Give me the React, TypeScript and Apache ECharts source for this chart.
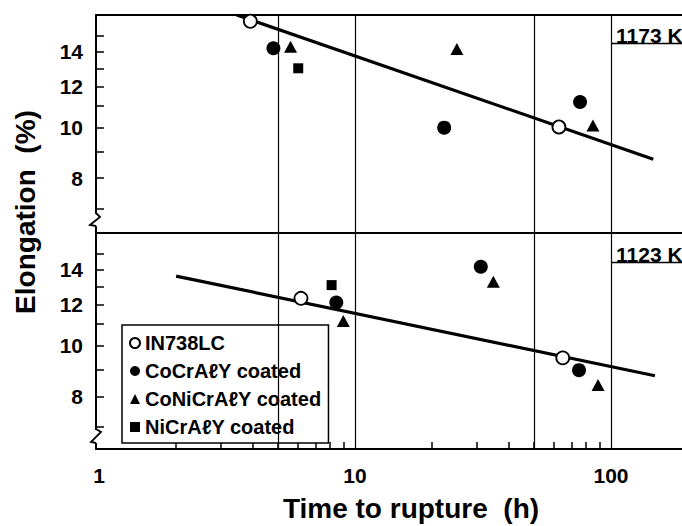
import React, { useEffect, useRef } from "react";
import * as echarts from "echarts";

// ---- axis ticks / labels ----
const xLabelValues = [1, 10, 100];
const xMinorTicks = [2, 3, 4, 5, 6, 7, 8, 9, 20, 30, 40, 50, 60, 70, 80, 90];
const xGridValues = [5, 10, 50, 100];
const yTickValues = [7, 8, 9, 10, 11, 12, 13, 14, 15];
const yLabelValues = [8, 10, 12, 14];

const seriesNames = ["IN738LC", "CoCrA\u2113Y coated", "CoNiCrA\u2113Y coated", "NiCrA\u2113Y coated"];

// ---- 1173 K panel ----
const hiIN738 = [[3.9, 16.0], [62.6, 10.03]];
const hiCoCrAlY = [[4.8, 14.2], [22.3, 10.0], [75.7, 11.2]];
const hiCoNiCrAlY = [[5.6, 14.3], [25, 14.15], [85, 10.1]];
const hiNiCrAlY = [[6.0, 13.0]];
const hiFit = [[3.45, 16.45], [146.3, 8.7]];

// ---- 1123 K panel ----
const loIN738 = [[6.15, 12.33], [64.8, 9.48]];
const loCoCrAlY = [[8.45, 12.1], [31, 14.17], [75, 8.98]];
const loCoNiCrAlY = [[9.0, 11.15], [34.7, 13.27], [89, 8.41]];
const loNiCrAlY = [[8.1, 13.07]];
const loFit = [[2.0, 13.6], [148.5, 8.76]];

const FONT = "'Liberation Sans', Arial, sans-serif";

function buildOption() {
  const xMin = 0.973;
  const xMax = 189.4;
  const baseX = {
    type: "log",
    min: xMin,
    max: xMax,
    splitLine: { show: false },
    minorTick: { show: false },
    axisLine: { show: true, lineStyle: { color: "#000", width: 2 } },
  };
  const makeY = (gridIndex: number, min: number, max: number) => ({
    type: "log",
    gridIndex,
    min,
    max,
    splitLine: { show: false },
    minorTick: { show: false },
    axisLine: { show: true, lineStyle: { color: "#000", width: 2 } },
    axisTick: {
      show: true,
      inside: true,
      length: 8,
      customValues: yTickValues,
      lineStyle: { color: "#000", width: 1.5 },
    },
    axisLabel: {
      show: true,
      customValues: yLabelValues,
      margin: 13,
      fontSize: 21,
      fontWeight: "bold",
      fontFamily: FONT,
      color: "#000",
      formatter: (v: number) => String(Math.round(v)),
    },
  });

  const gridLines = {
    silent: true,
    symbol: ["none", "none"],
    label: { show: false },
    lineStyle: { color: "#000", width: 1.2, type: "solid", opacity: 1 },
    data: xGridValues.map((v) => ({ xAxis: v })),
  };

  const symbols = [
    { symbol: "circle", symbolSize: 13, itemStyle: { color: "#fff", borderColor: "#000", borderWidth: 1.8, opacity: 1 } },
    { symbol: "circle", symbolSize: 14, itemStyle: { color: "#000", opacity: 1 } },
    { symbol: "triangle", symbolSize: [13, 12], itemStyle: { color: "#000", opacity: 1 } },
    { symbol: "rect", symbolSize: 10, itemStyle: { color: "#000", opacity: 1 } },
  ];

  const panel = (xi: number, yi: number, fit: number[][], sets: number[][][]) => {
    const out: any[] = [
      {
        type: "line",
        xAxisIndex: xi,
        yAxisIndex: yi,
        data: fit,
        showSymbol: false,
        symbol: "none",
        lineStyle: { color: "#000", width: 3.2 },
        z: 3,
        silent: true,
      },
    ];
    sets.forEach((d, i) => {
      out.push({
        type: "scatter",
        name: seriesNames[i],
        xAxisIndex: xi,
        yAxisIndex: yi,
        data: d,
        clip: false,
        z: 4,
        ...symbols[i],
        ...(i === 0 ? { markLine: gridLines } : {}),
      });
    });
    return out;
  };

  return {
    animation: false,
    textStyle: { fontFamily: FONT },
    grid: [
      { left: 96, top: 15, width: 586, height: 218 },
      { left: 96, top: 233, width: 586, height: 216 },
    ],
    xAxis: [
      { ...baseX, gridIndex: 0, position: "bottom", axisTick: { show: false }, axisLabel: { show: false } },
      { ...baseX, gridIndex: 0, position: "top", axisTick: { show: false }, axisLabel: { show: false } },
      {
        ...baseX,
        gridIndex: 1,
        position: "bottom",
        axisTick: {
          show: true,
          inside: true,
          length: 7,
          customValues: xMinorTicks,
          lineStyle: { color: "#000", width: 1.5 },
        },
        axisLabel: {
          show: true,
          customValues: xLabelValues,
          margin: 16,
          fontSize: 21,
          fontWeight: "bold",
          fontFamily: FONT,
          color: "#000",
          formatter: (v: number) => String(Math.round(v)),
        },
      },
    ],
    yAxis: [makeY(0, 6.28, 16.45), makeY(1, 6.34, 16.45)],
    legend: {
      data: seriesNames,
      orient: "vertical",
      left: 122,
      top: 325,
      padding: [8, 7, 6, 7],
      itemGap: 8,
      itemWidth: 10,
      itemHeight: 10,
      backgroundColor: "#fff",
      borderColor: "#000",
      borderWidth: 1.5,
      borderRadius: 0,
      selectedMode: false,
      textStyle: { fontSize: 20, fontWeight: "bold", fontFamily: FONT, color: "#000", lineHeight: 20 },
    },
    series: [
      ...panel(0, 0, hiFit, [hiIN738, hiCoCrAlY, hiCoNiCrAlY, hiNiCrAlY]),
      ...panel(2, 1, loFit, [loIN738, loCoCrAlY, loCoNiCrAlY, loNiCrAlY]),
    ],
    graphic: [
      // axis breaks
      { type: "rect", z: 100, shape: { x: 92, y: 214, width: 8, height: 12 }, style: { fill: "#fff" } },
      {
        type: "polyline",
        z: 101,
        shape: { points: [[96, 213], [100, 217], [90, 225], [96, 226]] },
        style: { stroke: "#000", lineWidth: 1.8, fill: "none" },
      },
      { type: "rect", z: 100, shape: { x: 92, y: 430, width: 8, height: 13 }, style: { fill: "#fff" } },
      {
        type: "polyline",
        z: 101,
        shape: { points: [[96, 429], [101, 432], [91, 442], [96, 443]] },
        style: { stroke: "#000", lineWidth: 1.8, fill: "none" },
      },
      // temperature labels
      {
        type: "text",
        z: 100,
        x: 616,
        y: 35,
        style: { text: "1173 K", fontSize: 21, fontWeight: "bold", fontFamily: FONT, fill: "#000", align: "left", verticalAlign: "middle" },
      },
      { type: "line", z: 100, shape: { x1: 612, y1: 43.5, x2: 682, y2: 43.5 }, style: { stroke: "#000", lineWidth: 1.5 } },
      {
        type: "text",
        z: 100,
        x: 616,
        y: 254,
        style: { text: "1123 K", fontSize: 21, fontWeight: "bold", fontFamily: FONT, fill: "#000", align: "left", verticalAlign: "middle" },
      },
      { type: "line", z: 100, shape: { x1: 612, y1: 262.5, x2: 682, y2: 262.5 }, style: { stroke: "#000", lineWidth: 1.5 } },
      // axis titles
      {
        type: "text",
        z: 100,
        x: 25,
        y: 212,
        rotation: Math.PI / 2,
        style: { text: "Elongation  (%)", fontSize: 28, fontWeight: "bold", fontFamily: FONT, fill: "#000", align: "center", verticalAlign: "middle" },
      },
      {
        type: "text",
        z: 100,
        x: 411,
        y: 508,
        style: { text: "Time to rupture  (h)", fontSize: 28, fontWeight: "bold", fontFamily: FONT, fill: "#000", align: "center", verticalAlign: "middle" },
      },
    ],
  };
}

export default function App() {
  const ref = useRef<HTMLDivElement>(null);
  useEffect(() => {
    if (!ref.current) return;
    const chart = echarts.init(ref.current, undefined, { renderer: "svg" });
    chart.setOption(buildOption() as any);
    return () => chart.dispose();
  }, []);
  return (
    <div
      ref={ref}
      style={{ position: "fixed", left: 0, top: 0, width: 682, height: 526, background: "#fff" }}
    />
  );
}
